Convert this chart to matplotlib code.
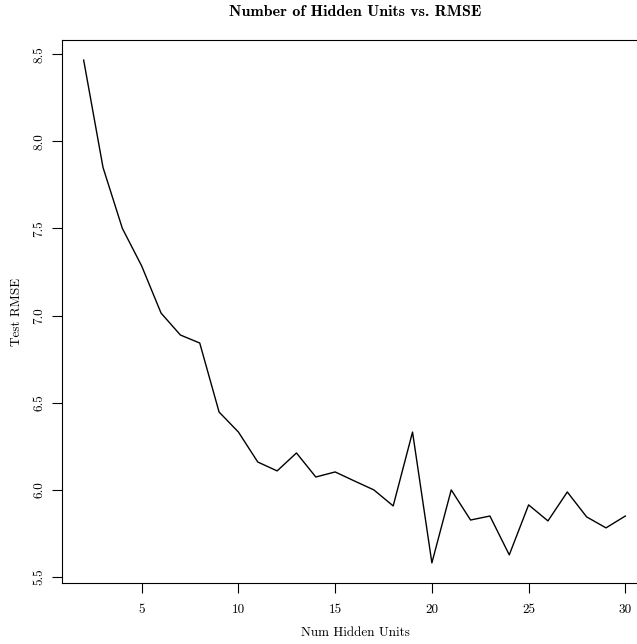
# %%
import numpy as np
import matplotlib
matplotlib.use("Agg")
import matplotlib.pyplot as plt

# Test RMSE for each number of hidden units
hidden_units = list(range(2, 31))
test_rmse = [8.466, 7.85, 7.50, 7.284, 7.014, 6.888, 6.842, 6.446, 6.331, 6.159,
             6.108, 6.211, 6.073, 6.102, 6.05, 5.999, 5.907, 6.331, 5.580, 5.999,
             5.826, 5.849, 5.626, 5.913, 5.821, 5.987, 5.844, 5.781, 5.849]
x_ticks = [5, 10, 15, 20, 25, 30]
y_ticks = [5.5, 6.0, 6.5, 7.0, 7.5, 8.0, 8.5]

# %%
# R-style base plot
fig = plt.figure(figsize=(6.37, 6.44), dpi=100)
ax = fig.add_axes([62 / 637, 61 / 644, 585 / 637, 543 / 644])

ax.plot(hidden_units, test_rmse, color='black', linewidth=1.0)

# 4% range expansion like R
x_pad = (max(hidden_units) - min(hidden_units)) * 0.04
y_pad = (max(test_rmse) - min(test_rmse)) * 0.04
ax.set_xlim(min(hidden_units) - x_pad, max(hidden_units) + x_pad)
ax.set_ylim(min(test_rmse) - y_pad, max(test_rmse) + y_pad)

ax.set_xticks(x_ticks)
ax.set_xticklabels([str(t) for t in x_ticks], fontfamily='cmr10', fontsize=9.5)
ax.set_yticks(y_ticks)
ax.set_yticklabels([f"{t:.1f}" for t in y_ticks], fontfamily='cmr10', fontsize=9.5,
                   rotation=90, va='center')
ax.tick_params(direction='out', length=7, width=0.8, color='black')
ax.tick_params(axis='x', pad=8)
ax.tick_params(axis='y', pad=5)

for s in ax.spines.values():
    s.set_linewidth(0.8)

fig.text(355 / 637, 1 - 633 / 644, 'Num Hidden Units', fontfamily='cmr10',
         fontsize=9.5, ha='center', va='center')
fig.text(17 / 637, 1 - 312 / 644, 'Test RMSE', fontfamily='cmr10',
         fontsize=9.5, ha='center', va='center', rotation=90)
fig.text(355 / 637, 1 - 12 / 644, 'Number of Hidden Units vs. RMSE', fontfamily='cmb10',
         fontsize=11.5, ha='center', va='center')

fig.savefig('out.png', dpi=100)
